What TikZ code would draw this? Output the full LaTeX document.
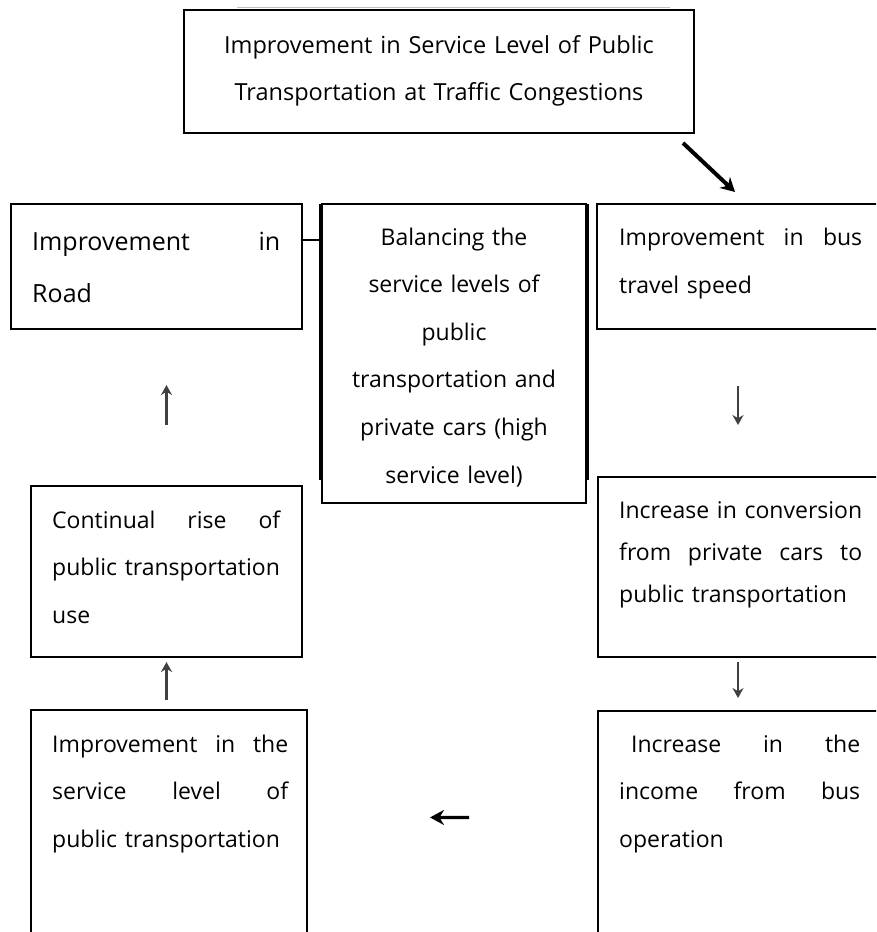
\documentclass[tikz,border=0pt]{standalone}
\usepackage{fontspec}
\setmainfont{Open Sans}
\usetikzlibrary{arrows.meta}
\newcommand{\gap}{\hspace{0pt plus 1filll}}

\begin{document}
\begin{tikzpicture}[x=1pt, y=-1pt,
	box/.style={shape=rectangle, draw, line width=1.6pt, inner sep=0pt, outer sep=0pt, anchor=north west},
	txt/.style={anchor=base west, inner sep=0pt, align=left, font=\fontsize{23}{47.6}\selectfont},
	thin arrow/.style={draw=black!75, line width=2.4pt, -{Stealth[length=10pt, width=11pt]}},
	bold arrow/.style={line width=4pt, -{Stealth[length=14pt, width=15pt]}}]
	\useasboundingbox (0,0) rectangle (876,932);
	\clip (0,0) rectangle (876,932);
	% Boxes:
	\node[box, minimum width=510, minimum height=123] (goal) at (184,10) {};
	\node[box, minimum width=291, minimum height=125] (road) at (11,204) {};
	\node[box, minimum width=264, minimum height=299] (bal) at (322,204) {};
	\node[box, minimum width=282, minimum height=125] (speed) at (597,204) {};
	\node[box, minimum width=271, minimum height=171] (cont) at (31,486) {};
	\node[box, minimum width=280, minimum height=180] (conv) at (598,477) {};
	\node[box, minimum width=276, minimum height=260] (impr) at (31,710) {};
	\node[box, minimum width=280, minimum height=260] (income) at (598,711) {};
	\draw[gray!50, line width=1pt] ([xshift=53pt, yshift=3pt]goal.north west) -- ([xshift=-24pt, yshift=3pt]goal.north east);
	\draw[line width=1.6pt] ([xshift=-2pt]bal.north west) -- ([xshift=-2pt, yshift=23pt]bal.south west);
	\draw[line width=1.6pt] ([xshift=2pt]bal.north east) -- ([xshift=2pt, yshift=23pt]bal.south east);
	% Texts:
	\node[txt, anchor=base, align=center, text width=500, font=\fontsize{23.5}{47}\selectfont] (goaltxt) at (439,53) {Improvement in Service Level of Public\\Transportation at Traffic Congestions};
	\node[txt, text width=248, font=\fontsize{25}{52}\selectfont] (roadtxt) at (32,250) {Improvement\gap in\\Road};
	\node[txt, anchor=base, align=center, text width=250] (baltxt) at (454,245) {Balancing the\\service levels of\\public\\transportation and\\private cars (high\\service level)};
	\node[txt, text width=243, font=\fontsize{23}{48}\selectfont] (speedtxt) at (619,245) {Improvement\gap in\gap bus\\travel speed};
	\node[txt, text width=243, font=\fontsize{23}{42}\selectfont] (convtxt) at (619,518) {Increase\gap in\gap conversion\\from\gap private\gap cars\gap to\\public transportation};
	\node[txt, text width=228] (conttxt) at (52,528) {Continual\gap rise\gap of\\public transportation\\use};
	\node[txt, text width=236] (imprtxt) at (52,752) {Improvement\gap in\gap the\\service\gap level\gap of\\public transportation};
	\node[txt, text width=241] (incometxt) at (619,752) {\hspace*{12pt}Increase\gap in\gap the\\income\gap from\gap bus\\operation};
	% Arrows and wires:
	\draw[bold arrow] ([xshift=-11pt, yshift=-10pt]goal.south east) -- ([xshift=-3pt, yshift=12pt]speed.north);
	\draw[line width=2.5pt] ([yshift=-36pt]road.north east) -- ([yshift=-36pt]bal.north west);
	\draw[thin arrow, shorten <=57pt, shorten >=52pt] (speed.south) -- (conv.north);
	\draw[thin arrow, shorten <=5pt, shorten >=13pt] (conv.south) -- (income.north);
	\draw[bold arrow, line width=3.2pt, shorten <=129pt, shorten >=123pt] ([yshift=-107pt]income.north west) -- ([yshift=-107pt]impr.north east);
	\draw[thin arrow, shorten <=10pt, shorten >=5pt] (impr.north -| cont.south) -- (cont.south);
	\draw[thin arrow, shorten <=61pt, shorten >=56pt] (cont.north) -- (road.south -| cont.north);
\end{tikzpicture}
\end{document}
